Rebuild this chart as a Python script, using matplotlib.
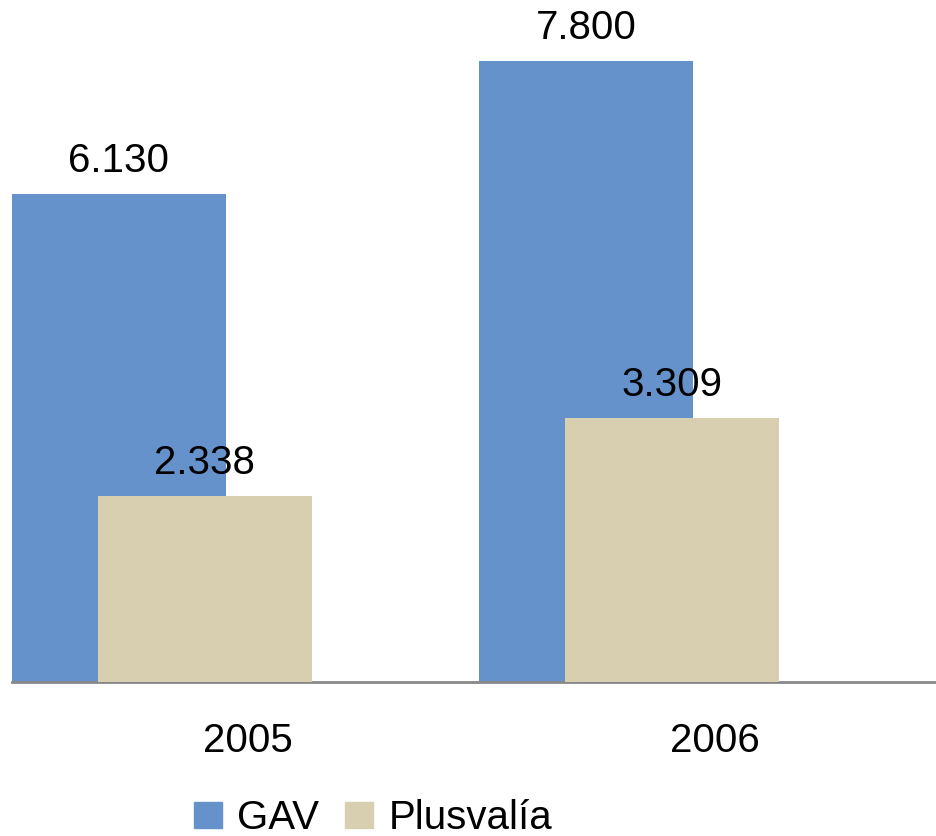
import numpy as np
import matplotlib.pyplot as plt
from matplotlib.patches import Patch

plt.rcParams['font.family'] = ['Liberation Sans', 'DejaVu Sans']

years = ["2005", "2006"]
gav = [6130, 7800]
plusvalia = [2338, 3309]
gav_labels = ["6.130", "7.800"]
plus_labels = ["2.338", "3.309"]

c_gav = "#6692cc"
c_plus = "#d8cfb0"
fs = 29

fig = plt.figure(figsize=(9.36, 8.36), dpi=100)
W, H = 936, 836
ax = fig.add_axes([12 / W, (H - 682) / H, (W - 12) / W, 682 / H])

x = np.arange(len(years))
width = 0.458
ax.bar(x - 0.271, gav, width, color=c_gav, zorder=2)
ax.bar(x - 0.087, plusvalia, width, color=c_plus, zorder=3)

for xi, v, s in zip(x - 0.271, gav, gav_labels):
    ax.annotate(s, (xi, v), xytext=(0, 10), textcoords="offset points",
                ha="center", va="bottom", fontsize=fs)
for xi, v, s in zip(x - 0.087, plusvalia, plus_labels):
    ax.annotate(s, (xi, v), xytext=(0, 10), textcoords="offset points",
                ha="center", va="bottom", fontsize=fs)

ax.set_xlim(-0.5, 924 / 467 - 0.5)
ax.set_ylim(0, 8560)
ax.set_xticks(x + 0.005)
ax.set_xticklabels(years, fontsize=fs)
ax.tick_params(axis="x", length=0, pad=29)
ax.set_yticks([])
for side in ["left", "right", "top"]:
    ax.spines[side].set_visible(False)
ax.spines["bottom"].set_color("#888888")
ax.spines["bottom"].set_linewidth(2)

handles = [Patch(color=c_gav, label="GAV"), Patch(color=c_plus, label="Plusvalía")]
fig.legend(handles=handles, loc="center", bbox_to_anchor=(373 / W, 1 - 818 / H),
           ncol=2, frameon=False, fontsize=fs, handlelength=0.7, handleheight=0.6,
           handletextpad=0.37, columnspacing=0.65, borderpad=0)

fig.savefig("out.png", dpi=100)
